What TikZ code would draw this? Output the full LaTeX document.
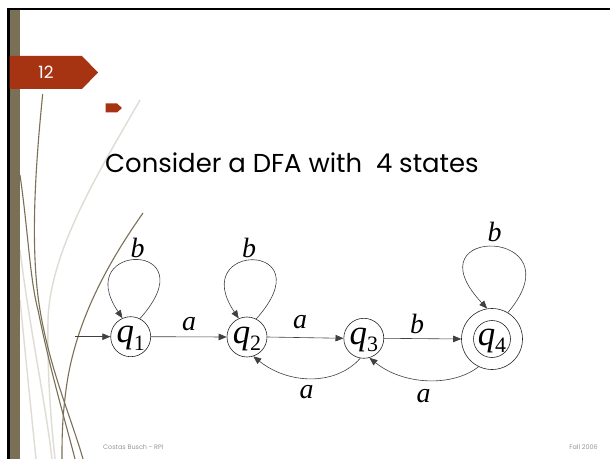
\documentclass[tikz,border=0pt]{standalone}
\usepackage{fontspec}
\setmainfont{Liberation Serif}
\newfontfamily\gothic{Poppins}
\usetikzlibrary{arrows.meta}
\definecolor{slideolive}{RGB}{122,112,86}
\definecolor{slidered}{RGB}{166,51,18}
\definecolor{lightcurve}{RGB}{222,220,212}
\definecolor{footgrey}{RGB}{150,150,150}
\tikzset{
  state/.style={circle, draw=black!85, line width=0.6bp, minimum size=40bp, inner sep=0pt,
     text height=16bp, text depth=4bp, font=\fontsize{35}{35}\selectfont\itshape},
  edge/.style={draw=black!75, line width=0.6bp, -{Triangle[length=8bp,width=6.5bp]}},
  lab/.style={font=\fontsize{28}{28}\selectfont\itshape, inner sep=0pt},
  deco/.style={draw=slideolive, line width=1.1bp},
  decolight/.style={draw=lightcurve, line width=1.4bp},
}
\newcommand{\qs}[1]{q{\fontsize{22}{22}\selectfont\upshape\raisebox{-7.5bp}{#1}}}
\begin{document}
\begin{tikzpicture}[x=1bp,y=1bp]
\useasboundingbox (0,0) rectangle (610,-459);
\fill[white] (0,0) rectangle (610,-459);
% decorative curves
\draw[decolight] (140,-100) .. controls (100,-170) and (50,-250) .. (48,-320) .. controls (47,-380) and (52,-430) .. (55,-459);
\draw[decolight] (20,-250) .. controls (30,-330) and (45,-400) .. (52,-459);
\draw[decolight] (20,-300) .. controls (26,-360) and (32,-420) .. (36,-459);
\draw[deco] (42.7,-94) .. controls (35,-170) and (30,-250) .. (40,-310) .. controls (50,-370) and (72,-420) .. (83,-459);
\draw[deco] (20,-175) .. controls (28,-230) and (30,-280) .. (38,-310) .. controls (50,-370) and (65,-420) .. (75,-459);
\draw[deco] (143,-213) .. controls (110,-260) and (75,-320) .. (66,-390) .. controls (62,-420) and (62,-440) .. (62,-459);
% frame
\fill[black] (7,-8) rectangle (610,-10.5);
\fill[black] (7,-8) rectangle (9.5,-459);
\fill[slideolive] (9.5,-10.5) rectangle (20,-459);
% tab
\fill[slidered] (9.5,-56) -- (82,-56) -- (98,-72.5) -- (82,-89) -- (9.5,-89) -- cycle;
\node[text=white, font=\gothic\fontsize{17}{17}\selectfont, inner sep=0pt] (num) at (46,-72.5) {12};
\fill[slidered] (105.5,-103.5) -- (117,-103.5) -- (122,-108) -- (117,-112.5) -- (105.5,-112.5) -- cycle;
% title
\node[anchor=base west, inner sep=0pt, font=\gothic\fontsize{26}{26}\selectfont] (title) at (105,-173) {Consider a DFA with\ \ 4 states};
% states
\node[state] (q1) at (130.7,-336.7) {\qs{1}};
\node[state] (q2) at (247,-337) {\qs{2}};
\node[state] (q3) at (363.8,-338.3) {\qs{3}};
\node[state, minimum size=61bp] (q4) at (492,-339) {};
\node[state, minimum size=37bp] (q4i) at (492,-339) {\qs{4}};
\coordinate (init) at (75,-336.7);
% edges
\draw[edge] (init) -- (q1.west);
\draw[edge] (q1.east) -- (q2.west);
\draw[edge] (q2.east) -- (q3.west);
\draw[edge] (q3.east) -- (q4.west);
\draw[edge] (q1.63) .. controls +(70,78) and +(-52,77) .. (q1.114);
\draw[edge] (q2.63) .. controls +(70,78) and +(-52,77) .. (q2.114);
\draw[edge] (q4.59) .. controls +(72,85) and +(-80,85) .. (q4.99);
\draw[edge] (q3.-100) .. controls +(-25,-28) and +(35,-28) .. (q2.-72);
\draw[edge] (q4.-116) .. controls +(-25,-20) and +(35,-28) .. (q3.-74);
% labels
\node[lab] (l12) at (189,-324) {a};
\node[lab] (l23) at (300,-322) {a};
\node[lab] (l34) at (417,-323.5) {b};
\node[lab] (l32) at (306.5,-392.5) {a};
\node[lab] (l43) at (423.5,-396.5) {a};
\node[lab] (l11) at (137.5,-247.5) {b};
\node[lab] (l22) at (249,-247.5) {b};
\node[lab] (l44) at (494.5,-231.5) {b};
% footer
\node[anchor=base west, inner sep=0pt, text=footgrey, font=\gothic\fontsize{6.5}{6.5}\selectfont] (foot1) at (103,-449) {Costas Busch - RPI};
\node[anchor=base east, inner sep=0pt, text=footgrey, font=\gothic\fontsize{6.5}{6.5}\selectfont] (foot2) at (598,-449) {Fall 2006};
\end{tikzpicture}
\end{document}
